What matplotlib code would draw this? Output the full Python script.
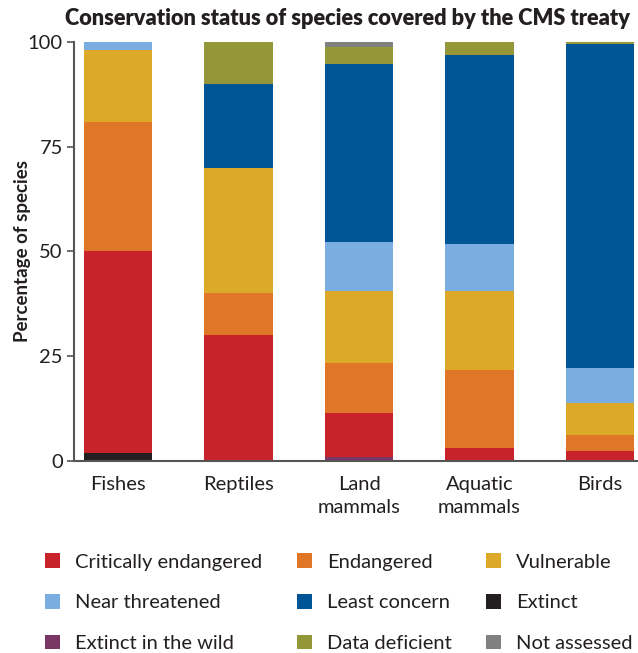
import numpy as np
import matplotlib
matplotlib.use('Agg')
import matplotlib.pyplot as plt
from matplotlib.patches import Patch

plt.rcParams['font.family'] = ['Lato', 'DejaVu Sans']

# ------------------------------------------------------------------ #
#                               Data                                 #
# ------------------------------------------------------------------ #
groups = ['Fishes', 'Reptiles', 'Land\nmammals', 'Aquatic\nmammals', 'Birds']

# segments stacked from bottom to top (percent of species)
extinct        = [1.8, 0.0, 0.0, 0.0, 0.0]
extinct_wild   = [0.0, 0.0, 1.0, 0.0, 0.0]
critically     = [48.2, 30.0, 10.5, 3.2, 2.4]
endangered     = [31.0, 10.0, 12.0, 18.5, 3.8]
vulnerable     = [17.2, 30.0, 17.0, 18.9, 7.6]
near_threat    = [1.8, 0.0, 11.8, 11.1, 8.4]
least_concern  = [0.0, 20.0, 42.5, 45.3, 77.3]
data_deficient = [0.0, 10.0, 4.0, 3.0, 0.5]
not_assessed   = [0.0, 0.0, 1.2, 0.0, 0.0]

series = [
    ('Extinct', extinct, '#231f20'),
    ('Extinct in the wild', extinct_wild, '#7a3766'),
    ('Critically endangered', critically, '#c8232a'),
    ('Endangered', endangered, '#e07628'),
    ('Vulnerable', vulnerable, '#dcaa28'),
    ('Near threatened', near_threat, '#7aaee0'),
    ('Least concern', least_concern, '#005596'),
    ('Data deficient', data_deficient, '#939738'),
    ('Not assessed', not_assessed, '#808080'),
]

legend_order = ['Critically endangered', 'Near threatened', 'Extinct in the wild',
                'Endangered', 'Least concern', 'Data deficient',
                'Vulnerable', 'Extinct', 'Not assessed']

# ------------------------------------------------------------------ #
#                               Plot                                 #
# ------------------------------------------------------------------ #
fs = 14.5
fig = plt.figure(figsize=(6.38, 6.53), dpi=100)
ax = fig.add_axes([74 / 638, 192 / 653, 564 / 638, 419 / 653])

x = np.arange(len(groups))
bottom = np.zeros(len(groups))
colors = {}
for name, vals, col in series:
    vals = np.array(vals)
    ax.bar(x, vals, width=0.57, bottom=bottom, color=col, linewidth=0)
    bottom += vals
    colors[name] = col

ax.set_xlim(-0.365, 4.315)
ax.set_ylim(0, 100)
ax.set_yticks([0, 25, 50, 75, 100])
ax.set_xticks(x)
ax.set_xticklabels(groups, fontsize=fs, color='#231f20', linespacing=1.4)
ax.tick_params(axis='y', labelsize=fs, labelcolor='#231f20', length=5,
               width=1.2, color='#555555', pad=3)
ax.tick_params(axis='x', length=0, pad=11)

for s in ['top', 'right']:
    ax.spines[s].set_visible(False)
for s in ['left', 'bottom']:
    ax.spines[s].set_color('#555555')
    ax.spines[s].set_linewidth(1.5)

ax.set_ylabel('Percentage of species', fontsize=13.5, fontweight='bold',
              color='#231f20', labelpad=-2)
fig.text(0.545, 0.972, 'Conservation status of species covered by the CMS treaty',
         ha='center', va='center', fontsize=15.7, fontweight='heavy', color='#231f20')

handles = [Patch(facecolor=colors[n], edgecolor='none') for n in legend_order]
fig.legend(handles, legend_order, loc='center left', bbox_to_anchor=(0.0705, 0.077),
           ncol=3, frameon=False, fontsize=fs, handlelength=0.75, handleheight=0.75,
           handletextpad=0.75, labelspacing=1.15, columnspacing=1.7,
           borderaxespad=0, borderpad=0, labelcolor='#231f20')

fig.savefig('out.png', dpi=100)
